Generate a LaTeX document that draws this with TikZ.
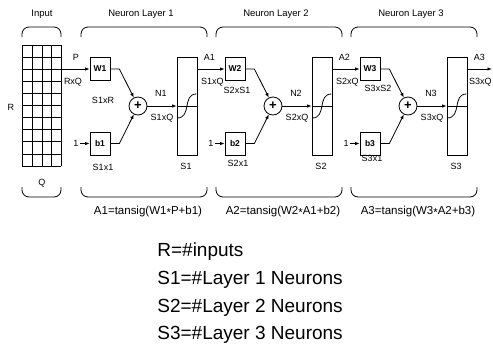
\documentclass[tikz,border=0pt]{standalone}
\usepackage{fontspec}
\setmainfont{Liberation Sans}
\usetikzlibrary{arrows.meta,positioning,calc}
\newcommand{\mulsign}{\raisebox{-.3ex}{*}}
\tikzset{
  wbox/.style={draw, minimum width=20pt, minimum height=23pt, inner sep=0pt, font=\bfseries\fontsize{8.5}{9}\selectfont},
  tfbox/.style={draw, minimum width=20pt, minimum height=98pt, inner sep=0pt},
  sumnode/.style={draw, circle, minimum size=18pt, inner sep=0pt, font=\bfseries\fontsize{13}{14}\selectfont},
  dimlbl/.style={inner sep=1pt, font=\fontsize{9}{10}\selectfont},
  ttl/.style={inner sep=0pt, font=\fontsize{9.5}{11}\selectfont},
  eqn/.style={inner sep=0pt, font=\fontsize{11.5}{13}\selectfont},
  note/.style={inner sep=0pt, anchor=west, font=\fontsize{19}{22}\selectfont},
  brace/.style={rounded corners=7pt},
}
\begin{document}
\begin{tikzpicture}[x=1pt, y=-1pt, line width=0.8pt, >={Latex[length=4.5pt,width=3.5pt]}]
\useasboundingbox (0,0) rectangle (493,349);
% ---- input: R x Q matrix ----
\foreach \x in {22,32,42,51.5,61}{\draw (\x,45) -- (\x,166);}
\foreach \k in {0,...,10}{\draw (22,45+12.1*\k) -- (61,45+12.1*\k);}
\node[ttl] (input) at (42,14) {Input};
\node[dimlbl] (rlbl) at (11,107) {R};
\node[dimlbl] (qlbl) at (42,183) {Q};
\draw[brace] (22,37) -- (22,27) -- (61,27) -- (61,37);
\draw[brace] (22,187) -- (22,197) -- (61,197) -- (61,187);
\coordinate (pout) at (61,69);
% ---- three neuron layers ----
\foreach \n/\wlab/\wlx/\wly/\blab/\blx/\bly/\eqtxt in {1/S1xR/103/100/S1x1/103/167/{W1\mulsign P+b1},
    2/S2xS1/102/90/S2x1/103/163/{W2\mulsign A1+b2},
    3/S3xS2/108/88/S3x1/102/158/{W3\mulsign A2+b3}}{
\begin{scope}[shift={({135*(\n-1)},0)}]
  \node[wbox] (w\n) at (100,69) {W\n};
  \node[wbox] (b\n) at (100,143.5) {b\n};
  \node[sumnode] (sum\n) at (138,106) {+};
  \node[tfbox] (tf\n) at (187,106) {};
  \node[dimlbl] (wd\n) at (\wlx,\wly) {\wlab};
  \node[dimlbl] (bd\n) at (\blx,\bly) {\blab};
  \node[dimlbl] (one\n) at (76,143.5) {1};
  \node[dimlbl] (nl\n) at (161,93) {N\n};
  \node[dimlbl] (nd\n) at (162,118) {S\n{}xQ};
  \node[dimlbl] (sd\n) at (186,166) {S\n};
  \draw[->] (one\n) -- (b\n);
  \draw[->] (w\n.east) -- ++(9,0) -- (sum\n);
  \draw[->] (b\n.east) -- ++(9,0) -- (sum\n);
  \draw[->] (sum\n) -- (tf\n.west |- sum\n);
  \draw (tf\n.west |- sum\n) -- (tf\n.east |- sum\n);
  % tansig curve
  \draw ($(tf\n.west)+(0.5,12)$) .. controls ($(tf\n.center)+(5,12)$) and ($(tf\n.center)+(-5,-12)$) .. ($(tf\n.east)+(-1,-12)$);
  \draw[brace] (81,37) -- (81,27) -- (207,27) -- (207,37);
  \draw[brace] (81,187) -- (81,197) -- (207,197) -- (207,187);
  \node[ttl] (ttl\n) at (141,14) {Neuron Layer \n};
  \node[eqn] (eq\n) at (148,212) {A\n=tansig(\eqtxt)};
\end{scope}
}
% ---- connections between layers ----
\draw[->] (pout) -- (w1.west);
\node[dimlbl] (plbl) at (76,57) {P};
\node[dimlbl] (pdim) at (73,82) {RxQ};
\foreach \m/\nx in {1/2,2/3}{
  \draw[->] (tf\m.east |- w\nx.west) -- (w\nx.west);
  \node[dimlbl] (alb\m) at ($(tf\m.east |- w\nx.west)+(12,-12)$) {A\m};
  \node[dimlbl] (adim\m) at ($(tf\m.east |- w\nx.west)+(15,13)$) {S\m{}xQ};
}
\coordinate (aout) at (492,69);
\draw[->] (tf3.east |- aout) -- (aout);
\node[dimlbl] (alb3) at ($(tf3.east |- aout)+(12,-12)$) {A3};
\node[dimlbl] (adim3) at ($(tf3.east |- aout)+(13,13)$) {S3xQ};
% ---- legend ----
\node[note] (nr) at (157,252) {R=\#inputs};
\node[note] (ns1) at (157,280) {S1=\#Layer 1 Neurons};
\node[note] (ns2) at (157,308) {S2=\#Layer 2 Neurons};
\node[note] (ns3) at (157,335) {S3=\#Layer 3 Neurons};
\end{tikzpicture}
\end{document}
